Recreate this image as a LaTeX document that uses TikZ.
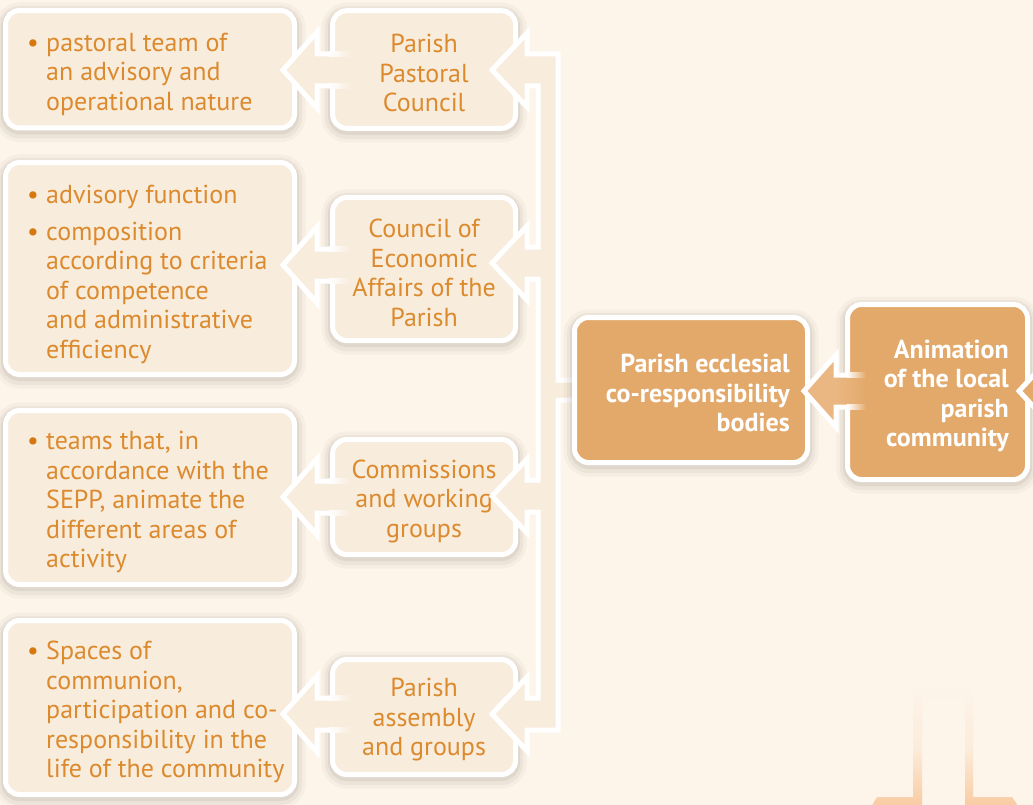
\documentclass[tikz,border=0pt]{standalone}
\usepackage{fontspec}
\setmainfont{PT Sans}
\usetikzlibrary{calc}
\definecolor{bg}{HTML}{FDF4EA}
\definecolor{boxfill}{HTML}{F8ECDD}
\definecolor{txt}{HTML}{DC8A2E}
\definecolor{bul}{HTML}{D4780F}
\definecolor{dark}{HTML}{E3A96B}
\definecolor{darkarrow}{HTML}{EAB783}
\definecolor{peach}{HTML}{F8C89C}
\definecolor{shadowc}{HTML}{5A4A3A}
\newcommand{\fsz}{\fontsize{26}{29.5}\selectfont}
\newcommand{\bul}{\textcolor{bul}{\textbullet}}
\newcommand{\myLarrow}[1]{%
  \fill[boxfill] (345,#1-16) -- (317,#1-16) -- (317,#1-38) -- (283,#1) -- (317,#1+38) -- (317,#1+16) -- (345,#1+16) -- cycle;
  \draw[arrline] (330,#1-16) -- (317,#1-16) -- (317,#1-38) -- (283,#1) -- (317,#1+38) -- (317,#1+16) -- (330,#1+16);
  \shade[left color=white,right color=boxfill] (329,#1-18.5) rectangle (350,#1-13.5);
  \shade[left color=white,right color=boxfill] (329,#1+13.5) rectangle (350,#1+18.5);
}
\begin{document}
\begin{tikzpicture}[x=1pt,y=-1pt,
  glow/.style={
    preaction={draw=shadowc,line width=22pt,opacity=0.04,transform canvas={yshift=-3pt}},
    preaction={draw=shadowc,line width=15pt,opacity=0.06,transform canvas={yshift=-3pt}},
    preaction={draw=shadowc,line width=9pt,opacity=0.08,transform canvas={yshift=-2pt}}},
  box/.style={draw=white,line width=5pt,rounded corners=14pt,fill=boxfill,glow,inner sep=0pt,outer sep=0pt},
  dbox/.style={box,fill=dark},
  mid/.style={box,minimum width=183pt},
  mt/.style={text=txt,font=\fsz,align=center,inner sep=0pt},
  lt/.style={text=txt,font=\fsz,inner sep=0pt,anchor=west},
  dt/.style={text=white,font=\fsz\bfseries,inner sep=0pt,anchor=east,align=right},
  arrline/.style={draw=white,line width=5pt,line join=miter}]
\useasboundingbox (0,0) rectangle (1033,805);
\clip (0,0) rectangle (1033,805);
\fill[bg] (0,0) rectangle (1033,805);

% down arrow (bottom right)
\shade[top color=bg,bottom color=peach,middle color=bg!80!peach,even odd rule]
  (913,687) -- (973,687) -- (973,797) -- (1012,797) -- (1022,812) -- (868,812) -- (877,797) -- (913,797) -- cycle
  (922,697) -- (965,697) -- (965,812) -- (922,812) -- cycle;

% left boxes
\node[box,minimum width=289pt,minimum height=117.5pt] (l1) at (150,69.25) {};
\node[box,minimum width=289pt,minimum height=212pt] (l2) at (150,268.5) {};
\node[box,minimum width=289pt,minimum height=174pt] (l3) at (150,497.5) {};
\node[box,minimum width=289pt,minimum height=174pt] (l4) at (150,707.5) {};

% middle boxes
\node[mid,minimum height=117.6pt] (m1) at (424.1,69.5) {};
\node[mid,minimum height=143pt] (m2) at (424.1,269) {};
\node[mid,minimum height=115pt] (m3) at (424.1,497) {};
\node[mid,minimum height=115pt] (m4) at (424.1,717) {};
\node[mt] (mt1) at (424.1,73) {Parish\\Pastoral\\Council};
\node[mt] (mt2) at (424.1,273) {Council of\\Economic\\Affairs of the\\Parish};
\node[mt] (mt3) at (424.1,501) {Commissions\\and working\\groups};
\node[mt] (mt4) at (424.1,720) {Parish\\assembly\\and groups};

% left texts
\node[lt] (t1) at (27,75) {\begin{tabular}{@{}p{19pt}@{}l@{}}\bul & pastoral team of\\ & an advisory and\\ & operational nature\end{tabular}};
\node[lt] (t2) at (27,275) {\begin{tabular}{@{}p{19pt}@{}l@{}}\bul & advisory function\\[7pt] \bul & composition\\ & according to criteria\\ & of competence\\ & and administrative\\ & efficiency\end{tabular}};
\node[lt] (t3) at (27,503) {\begin{tabular}{@{}p{19pt}@{}l@{}}\bul & teams that, in\\ & accordance with the\\ & SEPP, animate the\\ & different areas of\\ & activity\end{tabular}};
\node[lt] (t4) at (27,713) {\begin{tabular}{@{}p{19pt}@{}l@{}}\bul & Spaces of\\ & communion,\\ & participation and co-\\ & responsibility in the\\ & life of the community\end{tabular}};

% arrows middle -> left
\myLarrow{70}
\myLarrow{265}
\myLarrow{497}
\myLarrow{714}

% bus connector
\path[fill=boxfill,draw=white,line width=5pt,line join=miter]
  (558,54) -- (558,380) -- (576,380) -- (576,400) -- (558,400) -- (558,730)
  -- (527,730) -- (527,751) -- (492,714) -- (527,677) -- (527,698) -- (538,698)
  -- (538,512) -- (527,512) -- (527,533) -- (492,496) -- (527,459) -- (527,480) -- (538,480)
  -- (538,279) -- (527,279) -- (527,300) -- (492,263) -- (527,226) -- (527,247) -- (538,247)
  -- (538,86) -- (527,86) -- (527,107) -- (492,70) -- (527,33) -- (527,54) -- cycle;

% dark boxes
\node[dbox,minimum width=233pt,minimum height=145pt] (d1) at (691,390) {};
\node[dbox,minimum width=180pt,minimum height=175pt] (d2) at (937.5,392) {};
\node[dt] (dt1) at (790,393) {Parish ecclesial\\co-responsibility\\bodies};
\node[dt] (dt2) at (1009,396) {Animation\\of the local\\parish\\community};

% arrow d2 -> d1
\fill[darkarrow] (836,375) -- (836,355) -- (804,391) -- (836,427) -- (836,407) -- cycle;
\shade[left color=darkarrow,right color=dark] (835,375) rectangle (866,407);
\draw[arrline] (848,375) -- (836,375) -- (836,355) -- (804,391) -- (836,427) -- (836,407) -- (848,407);
\shade[left color=white,right color=dark] (847,372.5) rectangle (866,377.5);
\shade[left color=white,right color=dark] (847,404.5) rectangle (866,409.5);

% incoming arrow at right edge
\fill[dark] (1045,363) -- (1019,391) -- (1045,419) -- cycle;
\draw[arrline] (1045,363) -- (1019,391) -- (1045,419);
\end{tikzpicture}
\end{document}
